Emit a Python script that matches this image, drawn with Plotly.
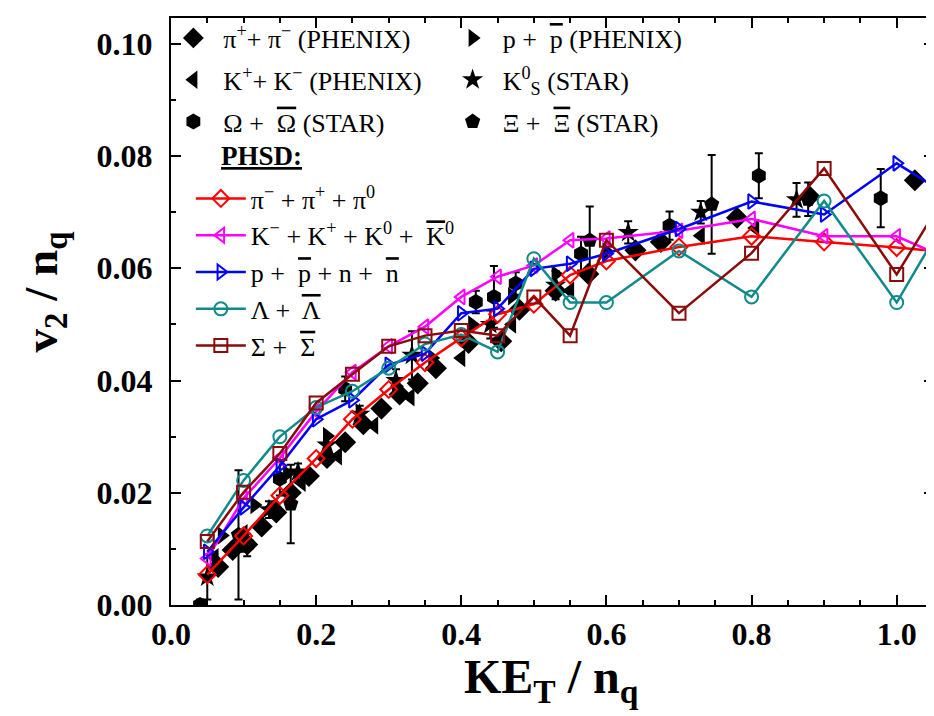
import plotly.graph_objects as go

# ---------------- data ----------------
# Experimental data (black markers)
pi_x = [0.065, 0.085, 0.105, 0.125, 0.145, 0.165, 0.19, 0.215, 0.24, 0.265, 0.29, 0.315, 0.34, 0.365, 0.41, 0.455, 0.48, 0.53, 0.575, 0.64, 0.675, 0.78, 0.88, 1.025]
pi_y = [0.0068, 0.0098, 0.0108, 0.0140, 0.0165, 0.0200, 0.0230, 0.0262, 0.0290, 0.0322, 0.0350, 0.0375, 0.0395, 0.0422, 0.0467, 0.0470, 0.0526, 0.0560, 0.0590, 0.0632, 0.0647, 0.0690, 0.0728, 0.0757]

p_x = [0.07, 0.115, 0.16, 0.215, 0.26, 0.31, 0.36, 0.415, 0.47, 0.53, 0.60]
p_y = [0.0124, 0.0178, 0.0234, 0.0301, 0.0343, 0.0390, 0.0440, 0.0500, 0.0550, 0.0590, 0.0630]

k_x = [0.06, 0.10, 0.14, 0.18, 0.23, 0.28, 0.33, 0.40, 0.47, 0.55, 0.73, 0.805]
k_y = [0.0085, 0.0128, 0.0175, 0.0218, 0.0265, 0.0320, 0.0370, 0.0440, 0.0500, 0.0560, 0.0658, 0.0672]

k0_x = [0.05, 0.10, 0.135, 0.175, 0.215, 0.26, 0.31, 0.332, 0.44, 0.53, 0.63, 0.73, 0.862]
k0_y = [0.0050, 0.0110, 0.0170, 0.0237, 0.0285, 0.0340, 0.0400, 0.0445, 0.0500, 0.0570, 0.0664, 0.0700, 0.0722]
k0_e = [0.0040, 0.0015, 0.0015, 0.0015, 0.0015, 0.0015, 0.0020, 0.0043, 0.0025, 0.0025, 0.0020, 0.0020, 0.0030]

om_x = [0.04, 0.105, 0.15, 0.24, 0.42, 0.445, 0.475, 0.565, 0.687, 0.81, 0.978]
om_y = [0.0000, 0.0107, 0.0225, 0.0385, 0.0540, 0.0549, 0.0573, 0.0626, 0.0676, 0.0765, 0.0725]
om_e = [0.0010, 0.0020, 0.0030, 0.0022, 0.0020, 0.0055, 0.0020, 0.0030, 0.0025, 0.0040, 0.0052]

xi_x = [0.093, 0.165, 0.577, 0.745, 0.878]
xi_y = [0.0125, 0.0180, 0.0650, 0.0714, 0.0723]
xi_e = [0.0115, 0.0070, 0.0060, 0.0088, 0.0030]

# PHSD results (coloured lines with open markers)
phsd_x = [0.05, 0.10, 0.15, 0.20, 0.25, 0.30, 0.35, 0.40, 0.45, 0.50, 0.55, 0.60, 0.70, 0.80, 0.90, 1.00, 1.10]
phsd_pi = [0.0054, 0.0123, 0.0195, 0.0261, 0.0331, 0.0384, 0.0432, 0.0476, 0.0518, 0.0536, 0.0588, 0.0613, 0.0638, 0.0657, 0.0647, 0.0637, 0.0625]
phsd_k = [0.0083, 0.0190, 0.0262, 0.0345, 0.0415, 0.0461, 0.0496, 0.0549, 0.0585, 0.0605, 0.0650, 0.0653, 0.0667, 0.0688, 0.0657, 0.0657, 0.0600]
phsd_p = [0.0095, 0.0174, 0.0248, 0.0331, 0.0365, 0.0428, 0.0448, 0.0520, 0.0528, 0.0599, 0.0608, 0.0626, 0.0670, 0.0719, 0.0696, 0.0787, 0.0707]
phsd_lam = [0.0123, 0.0222, 0.0300, 0.0352, 0.0381, 0.0422, 0.0465, 0.0482, 0.0451, 0.0617, 0.0539, 0.0539, 0.0631, 0.0549, 0.0720, 0.0539, 0.0760]
phsd_sig = [0.0113, 0.0201, 0.0270, 0.0360, 0.0411, 0.0461, 0.0480, 0.0489, 0.0480, 0.0549, 0.0480, 0.0650, 0.0520, 0.0627, 0.0778, 0.0589, 0.0800]

x_ticks = [0.0, 0.2, 0.4, 0.6, 0.8, 1.0]
x_ticklabels = ["0.0", "0.2", "0.4", "0.6", "0.8", "1.0"]
y_ticks = [0.00, 0.02, 0.04, 0.06, 0.08, 0.10]
y_ticklabels = ["0.00", "0.02", "0.04", "0.06", "0.08", "0.10"]

FONT = "Times New Roman, Liberation Serif, Tinos, serif"


def bar(s):
    return "<span style='text-decoration:overline'>" + s + "</span>"


fig = go.Figure()


def err(arr):
    return dict(type="data", array=arr, visible=True, color="black", thickness=2, width=4)


# (name, x, y, err, symbol, size, legend)
exp = [
    ("π<sup>+</sup>+ π<sup>−</sup> (PHENIX)", pi_x, pi_y, None, "diamond", 17, "legend"),
    ("K<sup>+</sup>+ K<sup>−</sup> (PHENIX)", k_x, k_y, None, "triangle-left", 16, "legend"),
    ("Ω +  " + bar("Ω") + " (STAR)", om_x, om_y, om_e, "hexagon", 16, "legend"),
    ("p +  " + bar("p") + " (PHENIX)", p_x, p_y, None, "triangle-right", 16, "legend3"),
    ("K<sup>0</sup><sub>S</sub> (STAR)", k0_x, k0_y, k0_e, "star", 16, "legend3"),
    ("Ξ +  " + bar("Ξ") + " (STAR)", xi_x, xi_y, xi_e, "pentagon", 16, "legend3"),
]
for i, (name, xs, ys, es, sym, sz, lg) in enumerate(exp):
    fig.add_trace(go.Scatter(
        x=xs, y=ys, mode="markers", name=name, legend=lg, legendgroup="e%d" % i,
        marker=dict(symbol=sym, size=sz, color="black", line=dict(width=0)),
        error_y=err(es) if es is not None else None,
    ))

phsd = [
    ("π<sup>−</sup> + π<sup>+</sup> + π<sup>0</sup>", phsd_pi, "#FF0000", "diamond-open"),
    ("K<sup>−</sup> + K<sup>+</sup> + K<sup>0</sup> +  " + bar("K") + "<sup>0</sup>", phsd_k, "#FF00FF", "triangle-left-open"),
    ("p +  " + bar("p") + " + n +  " + bar("n"), phsd_p, "#0000FF", "triangle-right-open"),
    ("Λ +  " + bar("Λ"), phsd_lam, "#108A8A", "circle-open"),
    ("Σ +  " + bar("Σ"), phsd_sig, "#8B0A0A", "square-open"),
]
for name, ys, col, sym in phsd:
    fig.add_trace(go.Scatter(
        x=phsd_x, y=ys, mode="lines+markers", name=name, legend="legend2",
        line=dict(color=col, width=2.5),
        marker=dict(symbol=sym, size=13, color=col, line=dict(width=2, color=col)),
    ))

axis_common = dict(
    showline=True, linecolor="black", linewidth=2, mirror="allticks",
    ticks="inside", ticklen=10, tickwidth=2, tickcolor="black",
    showgrid=False, zeroline=False,
    tickfont=dict(family=FONT, size=32, color="black", weight="bold"),
)

legend_font = dict(family=FONT, size=26, color="black")

fig.update_layout(
    width=934, height=716,
    margin=dict(l=163, r=6, t=6, b=119),
    paper_bgcolor="white", plot_bgcolor="white",
    font=dict(family=FONT, color="black"),
    xaxis=dict(
        range=[0, 1.0514], tickvals=x_ticks, ticktext=x_ticklabels,
        minor=dict(dtick=0.05, tick0=0, ticks="inside", ticklen=5, tickwidth=1.5, tickcolor="black"),
        **axis_common,
    ),
    yaxis=dict(
        range=[0, 0.1046], tickvals=y_ticks, ticktext=y_ticklabels,
        minor=dict(dtick=0.01, tick0=0, ticks="inside", ticklen=5, tickwidth=1.5, tickcolor="black"),
        ticklabelstandoff=10,
        **axis_common,
    ),
    legend=dict(
        x=-0.01, y=1.006, xanchor="left", yanchor="top", orientation="v",
        bgcolor="rgba(0,0,0,0)", font=legend_font,
        itemclick=False, tracegroupgap=5, itemwidth=50,
    ),
    legend3=dict(
        x=0.356, y=1.006, xanchor="left", yanchor="top", orientation="v",
        bgcolor="rgba(0,0,0,0)", font=legend_font,
        itemclick=False, tracegroupgap=5, itemwidth=50,
    ),
    legend2=dict(
        x=0.026, y=0.7325, xanchor="left", yanchor="top", orientation="v",
        bgcolor="rgba(0,0,0,0)", font=legend_font,
        itemwidth=50, tracegroupgap=0,
    ),
    annotations=[
        dict(text="<b><u>PHSD:</u></b>", xref="paper", yref="paper",
             x=0.119, y=0.765, xanchor="center", yanchor="middle",
             showarrow=False, font=dict(family=FONT, size=27, color="black")),
        dict(text="<b>v<sub>2</sub> / n<sub>q</sub></b>", xref="paper", yref="paper",
             x=-0.166, y=0.533, xanchor="center", yanchor="middle", textangle=-90,
             showarrow=False, font=dict(family=FONT, size=47, color="black")),
        dict(text="<b>KE<sub>T</sub> / n<sub>q</sub></b>", xref="paper", yref="paper",
             x=0.499, y=-0.127, xanchor="center", yanchor="middle",
             showarrow=False, font=dict(family=FONT, size=48, color="black")),
    ],
)

fig.write_html("out.html")
